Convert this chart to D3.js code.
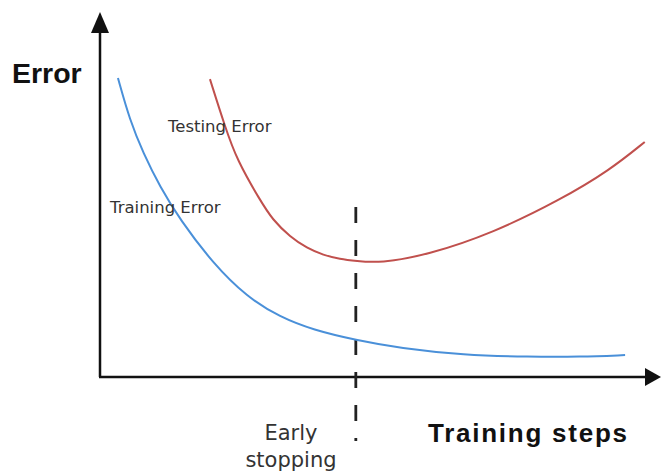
<!DOCTYPE html>
<html>
<head>
<meta charset="utf-8">
<script src="https://cdn.jsdelivr.net/npm/d3@7"></script>
<style>
  body { margin: 0; background: #fff; }
  svg { display: block; }
</style>
</head>
<body>
<svg id="chart" width="661" height="475"></svg>
<script>
// training steps (0-100) vs error (0-100)
var trainSteps = [3.2, 5.3, 7.7, 10.7, 14.3, 20.1, 26.2, 32.1, 38.0, 45.6, 53.5, 64.7, 76.6, 85.6, 93.6];
var trainError = [81.9, 70.4, 61.4, 52.1, 43.0, 31.2, 21.9, 16.4, 12.9, 10.1, 7.9, 6.0, 5.5, 5.5, 6.0];

var testSteps = [19.6, 22.3, 24.4, 28.5, 30.8, 33.9, 36.9, 39.8, 42.8, 45.6, 49.9, 58.3, 70.1, 82.0, 90.9, 97.1];
var testError = [81.6, 68.5, 59.5, 48.5, 43.0, 38.4, 35.3, 33.4, 32.3, 31.8, 31.2, 33.4, 39.5, 48.5, 56.7, 64.4];

var earlyStop = 45.6;

var svg = d3.select("#chart");

var x = d3.scaleLinear().domain([0, 100]).range([100, 661]);
var y = d3.scaleLinear().domain([0, 100]).range([377, 12]);

// basis spline smooths out the small reading errors
var line = d3.line()
  .x(function(d) { return x(d[0]); })
  .y(function(d) { return y(d[1]); })
  .curve(d3.curveBasis);

var train = d3.zip(trainSteps, trainError);
var test = d3.zip(testSteps, testError);

// axes: plain arrows, no ticks
svg.append("line")
  .attr("x1", x(0)).attr("y1", y(0))
  .attr("x2", x(0)).attr("y2", y(100) + 18)
  .attr("stroke", "#111").attr("stroke-width", 2.5);
svg.append("path")
  .attr("d", "M" + x(0) + "," + y(100) + " L" + (x(0) + 9) + "," + (y(100) + 21) + " L" + (x(0) - 9) + "," + (y(100) + 21) + " Z")
  .attr("fill", "#111");

svg.append("line")
  .attr("x1", x(0) - 1).attr("y1", y(0))
  .attr("x2", x(100) - 14).attr("y2", y(0))
  .attr("stroke", "#111").attr("stroke-width", 2.5);
svg.append("path")
  .attr("d", "M" + x(100) + "," + y(0) + " L" + (x(100) - 16) + "," + (y(0) - 9) + " L" + (x(100) - 16) + "," + (y(0) + 9) + " Z")
  .attr("fill", "#111");

// early stopping marker
svg.append("line")
  .attr("x1", x(earlyStop)).attr("y1", 207)
  .attr("x2", x(earlyStop)).attr("y2", 441)
  .attr("stroke", "#222")
  .attr("stroke-width", 2.8)
  .attr("stroke-dasharray", "16,17");

svg.append("path")
  .datum(test)
  .attr("d", line)
  .attr("fill", "none")
  .attr("stroke", "#c0504d")
  .attr("stroke-width", 2);

svg.append("path")
  .datum(train)
  .attr("d", line)
  .attr("fill", "none")
  .attr("stroke", "#4a90d9")
  .attr("stroke-width", 2);

// labels
svg.append("text")
  .attr("x", 12).attr("y", 83)
  .style("font-family", "Liberation Sans, Arial, sans-serif")
  .style("font-weight", "bold")
  .style("font-size", "28.5px")
  .attr("fill", "#111")
  .text("Error");

svg.append("text")
  .attr("x", 428).attr("y", 442)
  .attr("textLength", 199)
  .attr("lengthAdjust", "spacing")
  .style("font-family", "Liberation Sans, Arial, sans-serif")
  .style("font-weight", "bold")
  .style("font-size", "26px")
  .attr("fill", "#111")
  .text("Training steps");

svg.append("text")
  .attr("x", 168).attr("y", 132)
  .style("font-family", "DejaVu Sans, sans-serif")
  .style("font-size", "16.5px")
  .attr("fill", "#333")
  .text("Testing Error");

svg.append("text")
  .attr("x", 110).attr("y", 213)
  .style("font-family", "DejaVu Sans, sans-serif")
  .style("font-size", "16.5px")
  .attr("fill", "#333")
  .text("Training Error");

var es = svg.append("text")
  .attr("text-anchor", "middle")
  .style("font-family", "DejaVu Sans, sans-serif")
  .style("font-size", "21px")
  .attr("fill", "#333");
es.append("tspan").attr("x", 291).attr("y", 440).text("Early");
es.append("tspan").attr("x", 291).attr("y", 467).text("stopping");
</script>
</body>
</html>
